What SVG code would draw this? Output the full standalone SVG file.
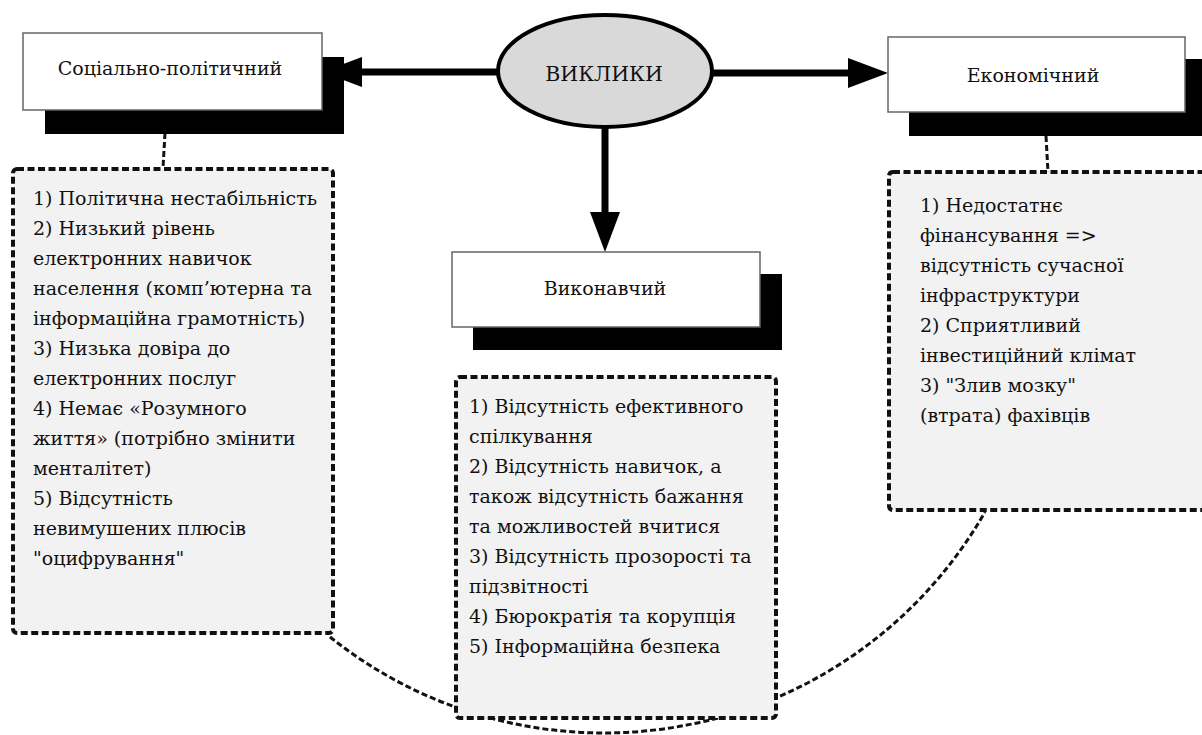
<svg xmlns="http://www.w3.org/2000/svg" width="1202" height="735" viewBox="0 0 1202 735">
<defs>
<marker id="ah" markerUnits="userSpaceOnUse" viewBox="0 0 40 30" markerWidth="40" markerHeight="30" refX="0" refY="15" orient="auto">
<path d="M0,0 L40,15 L0,30 z" fill="#000"/>
</marker>
<style>
.arrow{stroke:#000;stroke-width:7;fill:none}
.dash{stroke:#111;stroke-width:3;stroke-dasharray:6 3;fill:none}
.shadow{fill:#000}
.box{fill:#fff;stroke:#666;stroke-width:1.5}
.dbox{fill:#f2f2f2;stroke:#111;stroke-width:4;stroke-dasharray:7 3.5}
.lbl{font-family:'DejaVu Serif','Noto Serif',serif;font-size:19px;fill:#111;text-anchor:middle}
.lst{font-family:'DejaVu Serif','Noto Serif',serif;font-size:19px;fill:#111}
</style>
</defs>
<rect width="1202" height="735" fill="#fff"/>
<g id="connectors">
<path class="dash" d="M330,637 A439,439 0 0 0 985,512"/>
<line class="dash" x1="165" y1="133" x2="163" y2="168"/>
<line class="dash" x1="1046" y1="136" x2="1048" y2="172"/>
<line class="arrow" x1="500" y1="72" x2="362" y2="72" marker-end="url(#ah)"/>
<line class="arrow" x1="711" y1="73" x2="848" y2="73" marker-end="url(#ah)"/>
<line class="arrow" x1="605" y1="126" x2="605" y2="212" marker-end="url(#ah)"/>
</g>
<g id="node-vyklyky">
<ellipse cx="605" cy="71" rx="107" ry="56" fill="#d9d9d9" stroke="#000" stroke-width="4"/>
<text class="lbl" x="604" y="81" style="font-size:20.5px">ВИКЛИКИ</text>
</g>
<g id="node-social">
<rect class="shadow" x="45" y="57" width="299" height="77"/>
<rect class="box" x="23" y="33" width="299" height="77"/>
<text class="lbl" x="170" y="75">Соціально-політичний</text>
</g>
<g id="node-economic">
<rect class="shadow" x="909" y="59" width="299" height="77"/>
<rect class="box" x="888" y="37" width="297" height="75"/>
<text class="lbl" x="1033" y="82">Економічний</text>
</g>
<g id="node-executive">
<rect class="shadow" x="473" y="274" width="309" height="76"/>
<rect class="box" x="452" y="252" width="308" height="75"/>
<text class="lbl" x="605" y="295">Виконавчий</text>
</g>
<g id="list-social">
<rect class="dbox" x="13" y="169" width="320" height="464" rx="4"/>
<text class="lst">
<tspan x="33" y="205">1) Політична нестабільність</tspan>
<tspan x="33" y="235">2) Низький рівень</tspan>
<tspan x="33" y="265">електронних навичок</tspan>
<tspan x="33" y="295">населення (комп’ютерна та</tspan>
<tspan x="33" y="325">інформаційна грамотність)</tspan>
<tspan x="33" y="355">3) Низька довіра до</tspan>
<tspan x="33" y="385">електронних послуг</tspan>
<tspan x="33" y="415">4) Немає «Розумного</tspan>
<tspan x="33" y="445">життя» (потрібно змінити</tspan>
<tspan x="33" y="475">менталітет)</tspan>
<tspan x="33" y="505">5) Відсутність</tspan>
<tspan x="33" y="535">невимушених плюсів</tspan>
<tspan x="33" y="565">"оцифрування"</tspan>
</text>
</g>
<g id="list-executive">
<rect class="dbox" x="456" y="377" width="320" height="341" rx="4"/>
<text class="lst">
<tspan x="469" y="413">1) Відсутність ефективного</tspan>
<tspan x="469" y="443">спілкування</tspan>
<tspan x="469" y="473">2) Відсутність навичок, а</tspan>
<tspan x="469" y="503">також відсутність бажання</tspan>
<tspan x="469" y="533">та можливостей вчитися</tspan>
<tspan x="469" y="563">3) Відсутність прозорості та</tspan>
<tspan x="469" y="593">підзвітності</tspan>
<tspan x="469" y="623">4) Бюрократія та корупція</tspan>
<tspan x="469" y="653">5) Інформаційна безпека</tspan>
</text>
</g>
<g id="list-economic">
<rect class="dbox" x="889" y="172" width="330" height="338" rx="4"/>
<text class="lst">
<tspan x="920" y="212">1) Недостатнє</tspan>
<tspan x="920" y="242">фінансування =&gt;</tspan>
<tspan x="920" y="272">відсутність сучасної</tspan>
<tspan x="920" y="302">інфраструктури</tspan>
<tspan x="920" y="332">2) Сприятливий</tspan>
<tspan x="920" y="362">інвестиційний клімат</tspan>
<tspan x="920" y="392">3) "Злив мозку"</tspan>
<tspan x="920" y="422">(втрата) фахівців</tspan>
</text>
</g>
</svg>
